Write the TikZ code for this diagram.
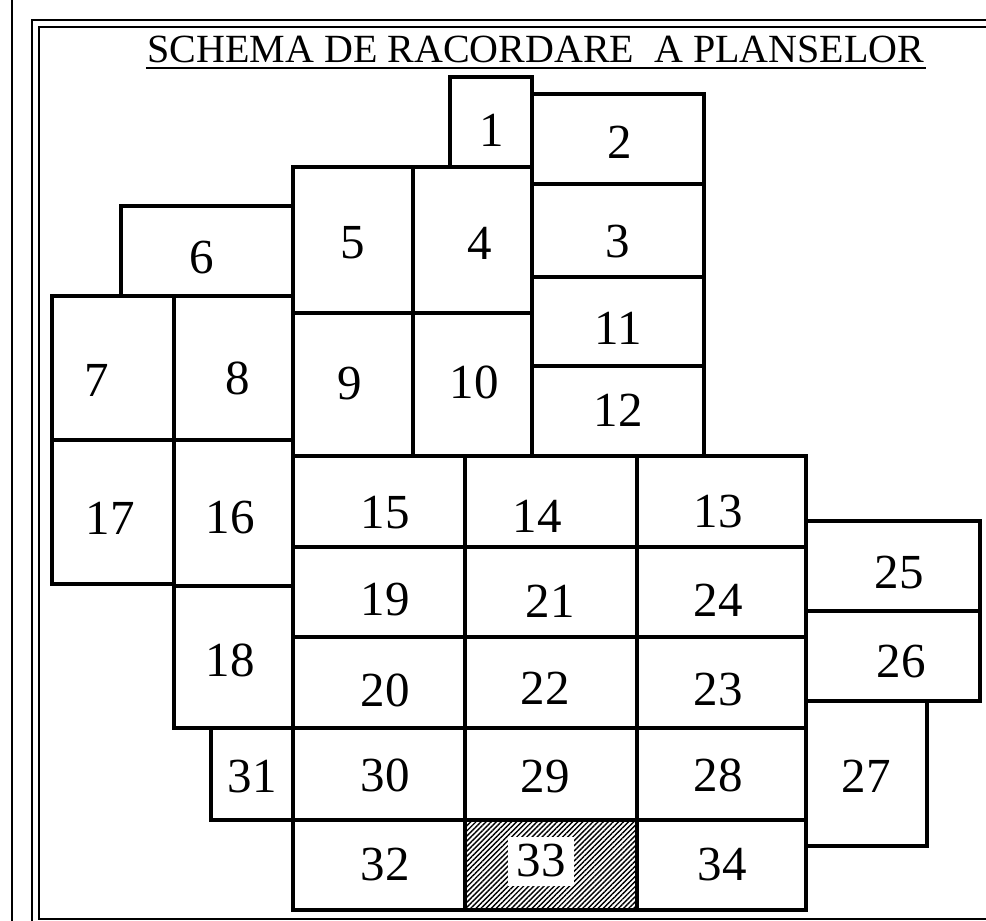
\documentclass[tikz,border=0pt]{standalone}
\usepackage{fontspec}
\setmainfont{Liberation Serif}
\usetikzlibrary{patterns.meta}

\begin{document}
\begin{tikzpicture}[x=1pt, y=-1pt, line width=3.6pt,
    cellnum/.style={font=\fontsize{49}{50}\selectfont, inner sep=0pt},
    frameline/.style={line width=1.8pt}]
  \useasboundingbox (0,0) rectangle (986,921);
  \clip (0,0) rectangle (986,921);
  % frame
  \draw[frameline] (12,-5) -- (12,930);
  \draw[frameline] (32,20) rectangle (1010,945);
  \draw[frameline] (39,27) rectangle (1003,919);
  \node[font=\fontsize{40}{44}\selectfont, inner sep=0pt, anchor=base] (title) at (536,62)
    {SCHEMA DE RACORDARE \ A PLANSELOR};
  \draw[frameline] ([yshift=-6pt]title.base west) -- ([yshift=-6pt]title.base east);
  % hatched sheet
  \fill[pattern={Lines[angle=45, distance=3.6pt, line width=1.4pt]}] (465,820) rectangle (637,910);
  % sheets: corners / number / label position
  \foreach \xa/\ya/\xb/\yb/\num/\lx/\ly in {
      450/77/532/167/1/492/130, 532/94/704/184/2/620/142,
      532/184/704/277/3/618/242, 413/167/532/313/4/480/243,
      293/167/413/313/5/353/243, 121/206/293/296/6/202/258,
      52/296/174/440/7/97/380, 174/296/293/440/8/238/378,
      293/313/413/456/9/350/384, 413/313/532/456/10/474/382,
      532/277/704/366/11/618/328, 532/366/704/456/12/618/410,
      637/456/806/547/13/718/512, 465/456/637/547/14/537/516,
      293/456/465/547/15/385/513, 174/440/293/586/16/230/518,
      52/440/174/584/17/110/518, 174/586/293/728/18/230/660,
      293/547/465/637/19/385/600, 293/637/465/728/20/385/690,
      465/547/637/637/21/550/601, 465/637/637/728/22/545/688,
      637/637/806/728/23/718/690, 637/547/806/637/24/718/600,
      806/521/980/611/25/899/573, 806/611/980/701/26/901/662,
      806/701/927/846/27/866/776, 637/728/806/820/28/718/775,
      465/728/637/820/29/545/777, 293/728/465/820/30/385/775,
      211/728/293/820/31/252/777, 293/820/465/910/32/385/865,
      637/820/806/910/34/722/865}
  {
    \draw (\xa,\ya) rectangle (\xb,\yb);
    \node[cellnum] (p\num) at (\lx,\ly) {\num};
  }
  \draw (465,820) rectangle (637,910);
  \node[cellnum, fill=white, minimum width=66pt, minimum height=49pt] (p33) at (541,861) {33};
\end{tikzpicture}
\end{document}
